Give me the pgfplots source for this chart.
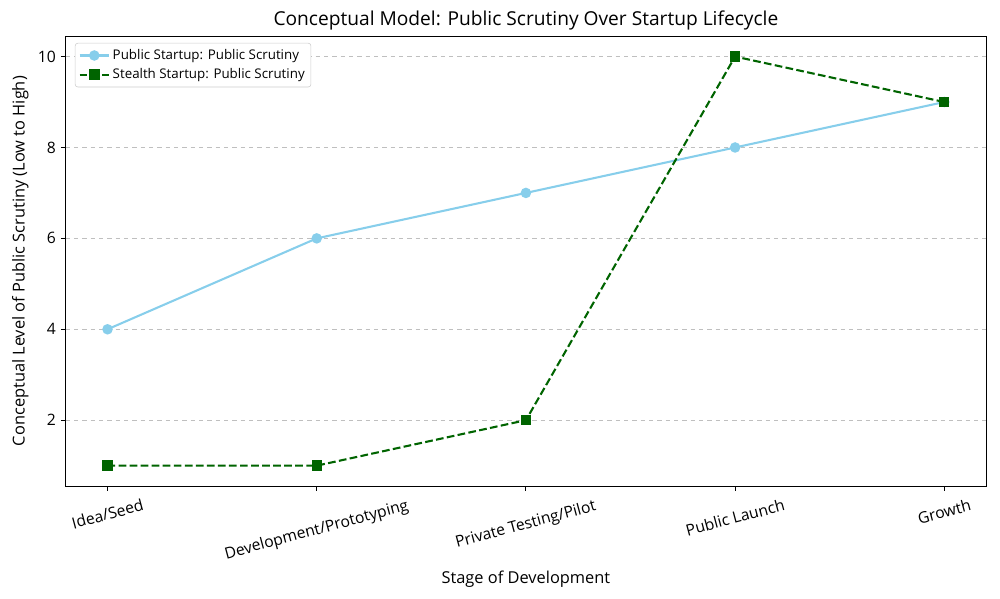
\documentclass[border=0pt]{standalone}
\usepackage{pgfplots}
\pgfplotsset{compat=1.18}
\usepackage{fontspec}
\setmainfont{Open Sans}
\usepackage{graphicx}
\definecolor{skyblue}{RGB}{135,206,235}
\definecolor{dkgreen}{RGB}{0,100,0}
\begin{document}
\begin{tikzpicture}
\path[use as bounding box] (-47.3pt,-81pt) rectangle (672.7pt,350pt);
\begin{axis}[
  at={(0,0)}, anchor=south west,
  scale only axis, width=662.7pt, height=324pt,
  xmin=-0.2, xmax=4.2, ymin=0.55, ymax=10.45,
  xtick={0,1,2,3,4},
  xticklabels={\rotatebox{15}{Idea/Seed},\rotatebox{15}{Development/Prototyping},\rotatebox{15}{Private Testing/Pilot},\rotatebox{15}{Public Launch},\rotatebox{15}{Growth}},
  ytick={2,4,6,8,10},
  tick align=outside, major tick length=3.5pt,
  tick style={black, line width=0.8pt},
  axis line style={line width=0.8pt},
  xtick pos=bottom, ytick pos=left,
  ymajorgrids, grid style={dashed, color=black!25, line width=0.8pt},
  /pgf/number format/assume math mode=true,
  ticklabel style={font=\fontsize{11.3}{13}\selectfont},
  xticklabel style={anchor=north, yshift=-2pt},
  title={Conceptual Model: Public Scrutiny Over Startup Lifecycle},
  title style={font=\fontsize{13.8}{16}\selectfont, yshift=-5pt},
  xlabel={Stage of Development},
  ylabel={Conceptual Level of Public Scrutiny (Low to High)},
  label style={font=\fontsize{11.8}{14}\selectfont},
  xlabel style={yshift=1pt},
  legend style={font=\fontsize{9.6}{11}\selectfont, draw=black!20, rounded corners=2pt, at={(0.01,0.985)}, anchor=north west, inner sep=2.5pt, row sep=1pt},
  legend cell align=left,
  legend image code/.code={\draw[mark repeat=2,mark phase=2,#1] plot coordinates {(0cm,0cm) (0.37cm,0cm) (0.74cm,0cm)};},
]
\addplot[color=skyblue, line width=1.5pt, mark=*, mark size=3pt, mark options={solid}] coordinates {(0,4) (1,6) (2,7) (3,8) (4,9)};
\addlegendentry{Public Startup: Public Scrutiny}
\addplot[color=dkgreen, line width=1.5pt, dash pattern=on 5.55pt off 2.4pt, mark=square*, mark size=3pt, mark options={solid}] coordinates {(0,1) (1,1) (2,2) (3,10) (4,9)};
\addlegendentry{Stealth Startup: Public Scrutiny}
\end{axis}
\end{tikzpicture}
\end{document}
